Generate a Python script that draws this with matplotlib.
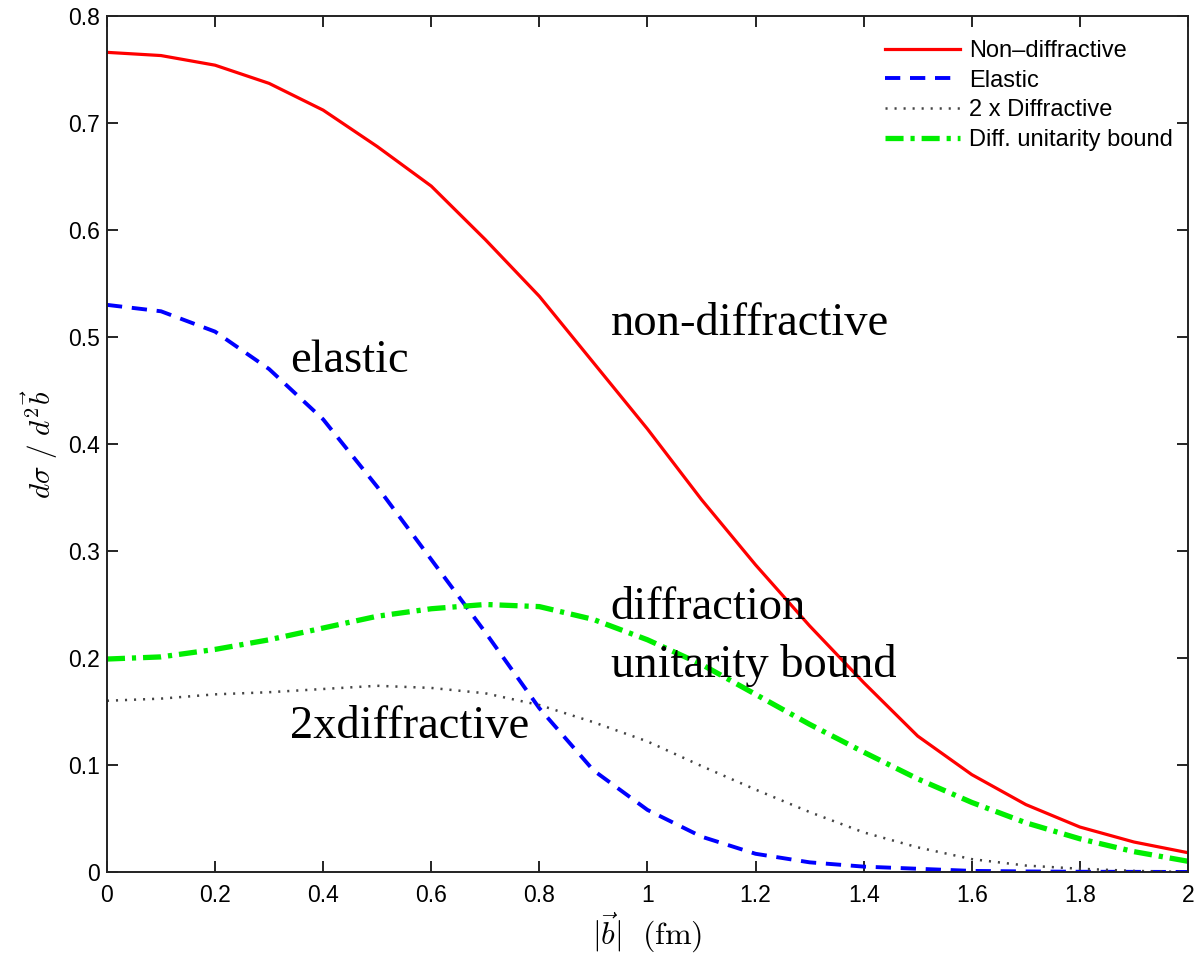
import matplotlib
matplotlib.use("Agg")
import matplotlib.pyplot as plt

# impact parameter grid (fm)
b = [0.0, 0.1, 0.2, 0.3, 0.4, 0.5, 0.6, 0.7, 0.8, 0.9, 1.0,
     1.1, 1.2, 1.3, 1.4, 1.5, 1.6, 1.7, 1.8, 1.9, 2.0]

non_diffractive = [0.766, 0.763, 0.754, 0.737, 0.712, 0.678, 0.641, 0.591, 0.538, 0.476, 0.414,
                   0.348, 0.287, 0.230, 0.177, 0.127, 0.091, 0.063, 0.042, 0.028, 0.018]
elastic = [0.530, 0.524, 0.505, 0.470, 0.423, 0.360, 0.292, 0.224, 0.153, 0.095, 0.058,
           0.033, 0.017, 0.009, 0.005, 0.003, 0.001, 0.0005, 0.0002, 0.0001, 0.0]
two_x_diffractive = [0.160, 0.162, 0.166, 0.168, 0.171, 0.174, 0.172, 0.167, 0.156, 0.140, 0.122,
                     0.099, 0.077, 0.056, 0.037, 0.023, 0.012, 0.006, 0.003, 0.001, 0.0]
unitarity_bound = [0.199, 0.201, 0.208, 0.217, 0.228, 0.239, 0.246, 0.250, 0.248, 0.236, 0.217,
                   0.194, 0.166, 0.138, 0.112, 0.087, 0.065, 0.046, 0.031, 0.019, 0.010]

labels = ["Non\u2013diffractive", "Elastic", "2 x Diffractive", "Diff. unitarity bound"]

plt.rcParams['font.family'] = ['Liberation Sans', 'DejaVu Sans']
plt.rcParams['mathtext.fontset'] = 'cm'
plt.rcParams['lines.scale_dashes'] = False

fig = plt.figure(figsize=(11.99, 9.56), dpi=100)
ax = fig.add_axes([0.0892, 0.0879, 0.9016, 0.8954])

ax.plot(b, non_diffractive, color='#ff0000', lw=2.3, label=labels[0])
ax.plot(b, elastic, color='#0000ff', lw=2.8, dashes=(11, 7), label=labels[1])
ax.plot(b, two_x_diffractive, color='#444444', lw=1.8, dashes=(1.5, 5), label=labels[2])
ax.plot(b, unitarity_bound, color='#00ee00', lw=3.8, dashes=(13, 5, 3, 5), label=labels[3])

ax.set_xlim(0, 2)
ax.set_ylim(0, 0.8)
ax.set_xticks([0, 0.2, 0.4, 0.6, 0.8, 1, 1.2, 1.4, 1.6, 1.8, 2])
ax.set_xticklabels(['0', '0.2', '0.4', '0.6', '0.8', '1', '1.2', '1.4', '1.6', '1.8', '2'])
ax.set_yticks([0, 0.1, 0.2, 0.3, 0.4, 0.5, 0.6, 0.7, 0.8])
ax.set_yticklabels(['0', '0.1', '0.2', '0.3', '0.4', '0.5', '0.6', '0.7', '0.8'])
ax.tick_params(direction='in', top=True, right=True, length=8, width=1.2,
               labelsize=16.5)
ax.tick_params(axis='x', pad=9)
ax.tick_params(axis='y', pad=5)
for s in ax.spines.values():
    s.set_linewidth(1.4)
    s.set_color('#222222')

ax.set_xlabel(r'$|\vec{b}|\ \ \mathrm{(fm)}$', fontsize=23, labelpad=2)
ax.set_ylabel(r'$d\sigma\ /\ d^2\vec{b}$', fontsize=21, labelpad=6)

leg = ax.legend(loc='upper right', bbox_to_anchor=(1.0, 0.99), frameon=False,
                fontsize=17, handlelength=3.2, labelspacing=0.33,
                borderaxespad=0.25, handletextpad=0.35)

serif = ['Liberation Serif', 'DejaVu Serif']
ax.text(0.932, 0.502, 'non-diffractive', family=serif, fontsize=33.5)
ax.text(0.339, 0.467, 'elastic', family=serif, fontsize=33.5)
ax.text(0.932, 0.236, 'diffraction', family=serif, fontsize=33.5)
ax.text(0.932, 0.182, 'unitarity bound', family=serif, fontsize=33.5)
ax.text(0.339, 0.125, '2xdiffractive', family=serif, fontsize=33.5)

fig.savefig("out.png", dpi=100)
